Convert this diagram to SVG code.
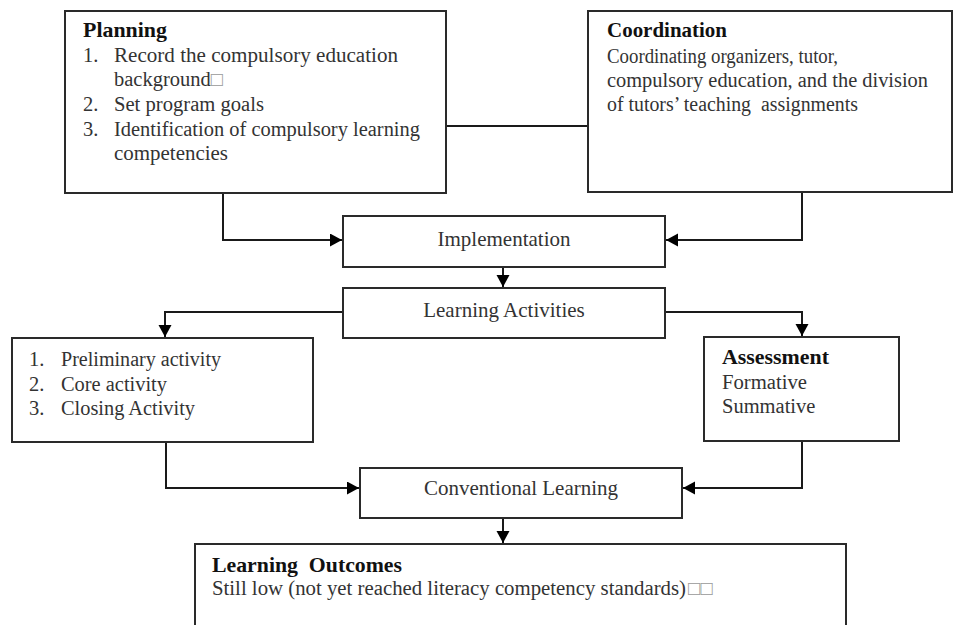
<svg xmlns="http://www.w3.org/2000/svg" width="953" height="625" viewBox="0 0 953 625">
<defs>
<style>
.box{fill:#fff;stroke:#2a2a2a;stroke-width:2}
.t{font-family:"Liberation Serif","Times New Roman",serif;font-size:20.5px;fill:#333}
.b{font-weight:bold;fill:#111;font-size:21px}
.c{text-anchor:middle;font-size:21px}
.sq{fill:#999}
.ln{fill:none;stroke:#1a1a1a;stroke-width:2}
</style>
<marker id="ah" markerUnits="userSpaceOnUse" markerWidth="14" markerHeight="14" refX="12" refY="6.5" orient="auto">
<path d="M0,0 L12,6.5 L0,13 Z" fill="#000"/>
</marker>
</defs>
<rect width="953" height="625" fill="#fff"/>
<g id="connectors">
<path class="ln" d="M446,126 H588"/>
<path class="ln" d="M223,193 V240 H342" marker-end="url(#ah)"/>
<path class="ln" d="M802,192 V240 H666" marker-end="url(#ah)"/>
<path class="ln" d="M503,267 V287" marker-end="url(#ah)"/>
<path class="ln" d="M343,312 H165 V337" marker-end="url(#ah)"/>
<path class="ln" d="M665,312 H802 V336" marker-end="url(#ah)"/>
<path class="ln" d="M166,442 V488 H359" marker-end="url(#ah)"/>
<path class="ln" d="M802,441 V488 H683" marker-end="url(#ah)"/>
<path class="ln" d="M503,518 V543" marker-end="url(#ah)"/>
</g>
<g id="planning">
<rect class="box" x="65" y="11" width="381" height="182"/>
<text class="t b" x="83" y="37" textLength="84" lengthAdjust="spacingAndGlyphs">Planning</text>
<text class="t" x="83" y="62">1.</text>
<text class="t" x="114" y="62" textLength="284" lengthAdjust="spacingAndGlyphs">Record the compulsory education</text>
<text class="t" x="114" y="86">background<tspan class="sq">□</tspan></text>
<text class="t" x="83" y="111">2.</text>
<text class="t" x="114" y="111" textLength="150" lengthAdjust="spacingAndGlyphs">Set program goals</text>
<text class="t" x="83" y="136">3.</text>
<text class="t" x="114" y="136" textLength="306" lengthAdjust="spacingAndGlyphs">Identification of compulsory learning</text>
<text class="t" x="114" y="160" textLength="114" lengthAdjust="spacingAndGlyphs">competencies</text>
</g>
<g id="coordination">
<rect class="box" x="588" y="11" width="364" height="181"/>
<text class="t b" x="607" y="37" textLength="120" lengthAdjust="spacingAndGlyphs">Coordination</text>
<text class="t" x="607" y="63" textLength="231" lengthAdjust="spacingAndGlyphs">Coordinating organizers, tutor,</text>
<text class="t" x="607" y="87" textLength="321" lengthAdjust="spacingAndGlyphs">compulsory education, and the division</text>
<text class="t" x="607" y="111" xml:space="preserve" textLength="251" lengthAdjust="spacingAndGlyphs">of tutors’ teaching  assignments</text>
</g>
<g id="implementation">
<rect class="box" x="343" y="216" width="322" height="51"/>
<text class="t c" x="504" y="246">Implementation</text>
</g>
<g id="learning-activities">
<rect class="box" x="343" y="288" width="322" height="50"/>
<text class="t c" x="504" y="317">Learning Activities</text>
</g>
<g id="activities">
<rect class="box" x="12" y="338" width="301" height="104"/>
<text class="t" x="29" y="366">1.</text>
<text class="t" x="61" y="366" textLength="160" lengthAdjust="spacingAndGlyphs">Preliminary activity</text>
<text class="t" x="29" y="391">2.</text>
<text class="t" x="61" y="391" textLength="106" lengthAdjust="spacingAndGlyphs">Core activity</text>
<text class="t" x="29" y="415">3.</text>
<text class="t" x="61" y="415" textLength="134" lengthAdjust="spacingAndGlyphs">Closing Activity</text>
</g>
<g id="assessment">
<rect class="box" x="704" y="337" width="195" height="104"/>
<text class="t b" x="722" y="364" textLength="107" lengthAdjust="spacingAndGlyphs">Assessment</text>
<text class="t" x="722" y="389" textLength="85" lengthAdjust="spacingAndGlyphs">Formative</text>
<text class="t" x="722" y="413">Summative</text>
</g>
<g id="conventional-learning">
<rect class="box" x="360" y="468" width="322" height="50"/>
<text class="t c" x="521" y="495">Conventional Learning</text>
</g>
<g id="learning-outcomes">
<rect class="box" x="195" y="544" width="651" height="100"/>
<text class="t b" x="212" y="572" xml:space="preserve" textLength="190" lengthAdjust="spacingAndGlyphs">Learning  Outcomes</text>
<text class="t" x="212" y="595" textLength="474" lengthAdjust="spacingAndGlyphs">Still low (not yet reached literacy competency standards)</text>
<text class="t sq" x="688" y="595">□□</text>
</g>
</svg>
